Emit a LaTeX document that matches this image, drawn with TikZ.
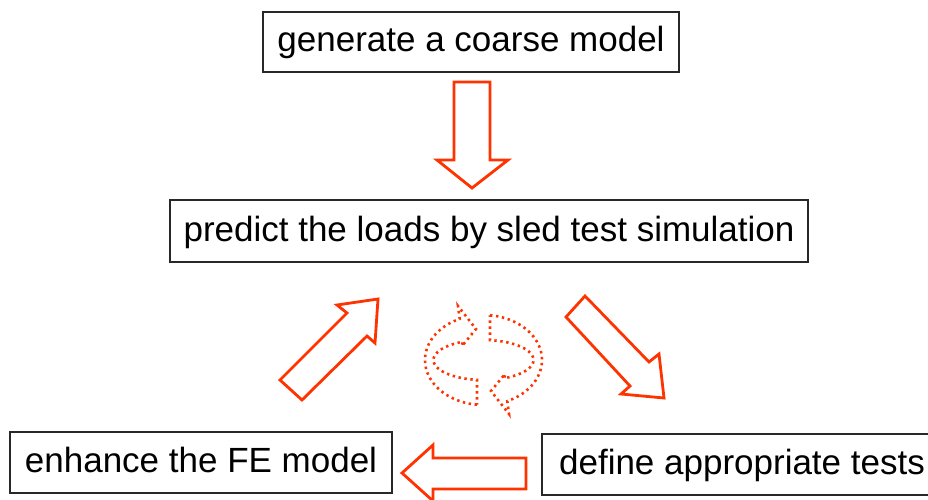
\documentclass[tikz,border=0pt]{standalone}
\usepackage{fontspec}
\setmainfont{Liberation Sans}
\definecolor{arrowred}{RGB}{255,51,0}
\definecolor{boxline}{RGB}{40,40,40}
\begin{document}
\begin{tikzpicture}[x=1pt,y=-1pt,
  box/.style={draw=boxline,line width=1.4pt,inner sep=0pt,
    text height=26pt,text depth=6pt,
    font=\fontsize{35pt}{40pt}\selectfont},
  blockarrow/.style={draw=arrowred,line width=2.8pt,line join=miter,fill=white},
  ringarrow/.style={draw=arrowred,line width=2.6pt,dash pattern=on 2.4pt off 3.6pt}
]
\useasboundingbox (0,0) rectangle (928,500);
\fill[white] (0,0) rectangle (928,500);

% boxes
\node[box,minimum width=416pt,minimum height=60pt] (coarse) at (471,42) {generate a coarse model};
\node[box,minimum width=638pt,minimum height=62pt] (predict) at (489,231) {predict the loads by sled test simulation};
\node[box,minimum width=382pt,minimum height=61pt] (enhance) at (201,462.5) {enhance the FE model};
\node[box,minimum width=400pt,minimum height=61pt] (define) at (742,464.5) {define appropriate tests};

% block arrows
\draw[blockarrow] (454,82) -- (490,82) -- (490,160) -- (508,160) -- (472,188) -- (437,160) -- (454,160) -- cycle;
\draw[blockarrow] (585,296) -- (649,362) -- (659,354) -- (664,398) -- (621,394) -- (630,386) -- (566,317) -- cycle;
\draw[blockarrow] (526,458) -- (526,489) -- (433,489) -- (433,501) -- (402,473) -- (433,445) -- (433,458) -- cycle;
\draw[blockarrow] (302,400) -- (367,336) -- (375,343) -- (378,299) -- (337,305) -- (347,313) -- (280,380) -- cycle;

% dotted ring arrows
\draw[ringarrow] plot[domain=96.4:246,samples=50] ({483.5+58.5*cos(\x)},{360+45*sin(\x)})
  -- (458,306) -- (476,329) -- (462,346)
  -- plot[domain=245.5:97.5,samples=50] ({483.5+50*cos(\x)},{360+20*sin(\x)}) -- cycle;
\draw[ringarrow] plot[domain=276.4:426,samples=50] ({483.5+58.5*cos(\x)},{360+45*sin(\x)})
  -- (509,414) -- (491,391) -- (505,374)
  -- plot[domain=425.5:277.5,samples=50] ({483.5+50*cos(\x)},{360+20*sin(\x)}) -- cycle;
\end{tikzpicture}
\end{document}
